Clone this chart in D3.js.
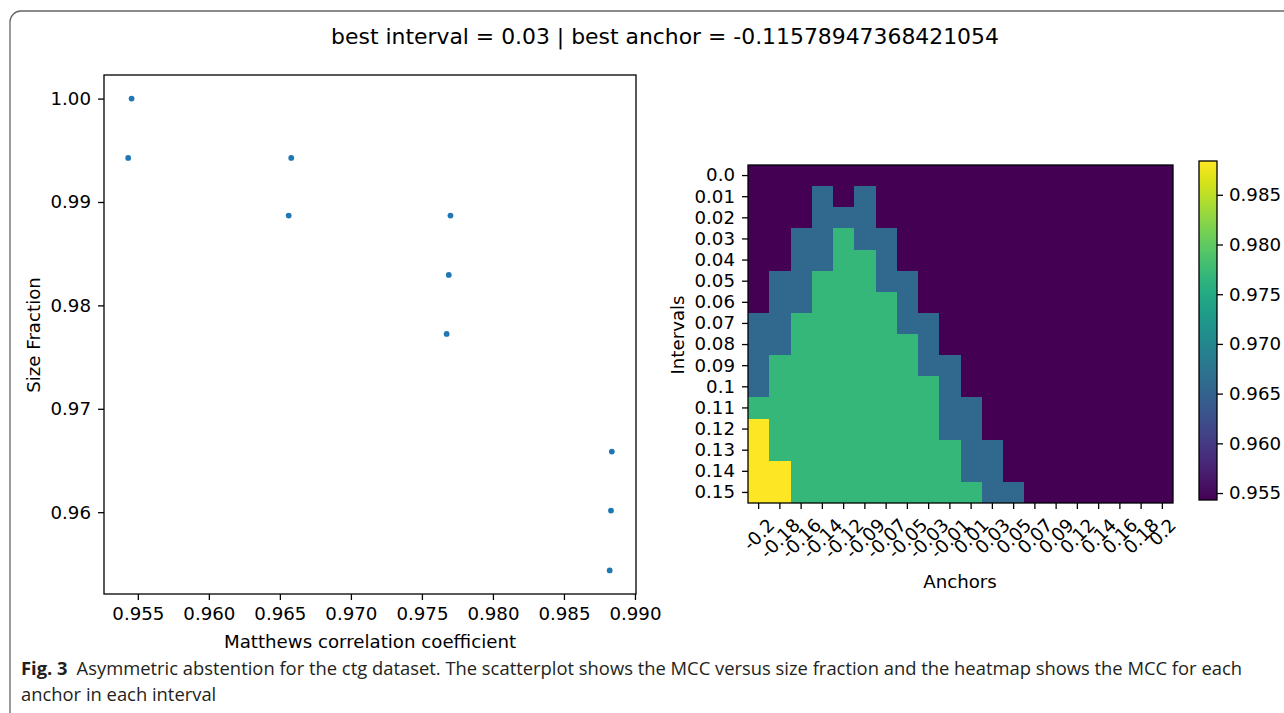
<!DOCTYPE html>
<html>
<head>
<meta charset="utf-8">
<script src="https://cdn.jsdelivr.net/npm/d3@7"></script>
<style>
  body { margin: 0; background: #fff; }
  svg { display: block; }
  .mpl { font-family: "DejaVu Sans", sans-serif; fill: #000; }
  .cap { font-family: "Open Sans", "Noto Sans", sans-serif; fill: #231f20; }
</style>
</head>
<body>
<svg id="fig" width="1284" height="713"></svg>
<script>
// scatter: MCC vs size fraction
const scatterMCC  = [0.95456, 0.95432, 0.96580, 0.96562, 0.97701, 0.97689, 0.97674, 0.98837, 0.98831, 0.98822];
const scatterSize = [1.00000, 0.99426, 0.99426, 0.98869, 0.98869, 0.98295, 0.97724, 0.96586, 0.96016, 0.95437];
const xTicks = [0.955, 0.960, 0.965, 0.970, 0.975, 0.980, 0.985, 0.990];
const yTicks = [0.96, 0.97, 0.98, 0.99, 1.00];

// heatmap: MCC for each anchor (column) in each interval (row)
const intervals = ["0.0","0.01","0.02","0.03","0.04","0.05","0.06","0.07","0.08","0.09","0.1","0.11","0.12","0.13","0.14","0.15"];
const anchors = ["-0.2","-0.18","-0.16","-0.14","-0.12","-0.09","-0.07","-0.05","-0.03","-0.01",
                 "0.01","0.03","0.05","0.07","0.09","0.12","0.14","0.16","0.18","0.2"];
const mccLevels = [0.9543, 0.9657, 0.9770, 0.9884];
const heatRows = [
  "00000000000000000000",
  "00010100000000000000",
  "00011100000000000000",
  "00112110000000000000",
  "00112210000000000000",
  "01122211000000000000",
  "01122221000000000000",
  "11222221100000000000",
  "11222222100000000000",
  "12222222110000000000",
  "12222222210000000000",
  "22222222211000000000",
  "32222222211000000000",
  "32222222221100000000",
  "33222222221100000000",
  "33222222222110000000"
];
const cbarTicks = [0.955, 0.960, 0.965, 0.970, 0.975, 0.980, 0.985];

const titleText = "best interval = 0.03 | best anchor = -0.11578947368421054";
const captionBold = "Fig. 3";
const captionLine1 = "Asymmetric abstention for the ctg dataset. The scatterplot shows the MCC versus size fraction and the heatmap shows the MCC for each";
const captionLine2 = "anchor in each interval";

const svg = d3.select("#fig");
const FS = 18.2, TICK = 6, PAD = 7, LW = 1.3;

// outer frame
svg.append("rect")
  .attr("x", 10).attr("y", 11).attr("width", 1300).attr("height", 720)
  .attr("rx", 11).attr("fill", "none").attr("stroke", "#666").attr("stroke-width", 1.3);

svg.append("text").attr("class", "mpl")
  .attr("x", 665).attr("y", 44).attr("text-anchor", "middle")
  .attr("font-size", 21.9).text(titleText);

// ---------- scatter ----------
const sc = {l: 104, r: 636, t: 75, b: 594};
function padExtent(arr){
  let e = d3.extent(arr), p = (e[1]-e[0])*0.05;
  return [e[0]-p, e[1]+p];
}
const x = d3.scaleLinear().domain(padExtent(scatterMCC)).range([sc.l, sc.r]);
const y = d3.scaleLinear().domain(padExtent(scatterSize)).range([sc.b, sc.t]);

const gS = svg.append("g");
gS.selectAll("circle")
  .data(scatterMCC.map((v,i) => [v, scatterSize[i]]))
  .enter().append("circle")
  .attr("cx", d => x(d[0])).attr("cy", d => y(d[1]))
  .attr("r", 2.9).attr("fill", "#1f77b4");

function styleAxis(g){
  g.select(".domain").remove();
  g.selectAll(".tick line").attr("stroke", "#000").attr("stroke-width", LW);
  g.selectAll(".tick text").attr("class", "mpl").attr("font-size", FS).attr("fill", "#000");
}

gS.append("g").attr("transform", `translate(0,${sc.b})`)
  .call(d3.axisBottom(x).tickValues(xTicks).tickFormat(d3.format(".3f")).tickSizeOuter(0).tickSize(TICK).tickPadding(PAD))
  .call(styleAxis);
gS.append("g").attr("transform", `translate(${sc.l},0)`)
  .call(d3.axisLeft(y).tickValues(yTicks).tickFormat(d3.format(".2f")).tickSizeOuter(0).tickSize(TICK).tickPadding(PAD))
  .call(styleAxis);

gS.append("rect").attr("x", sc.l).attr("y", sc.t)
  .attr("width", sc.r - sc.l).attr("height", sc.b - sc.t)
  .attr("fill", "none").attr("stroke", "#000").attr("stroke-width", LW);

gS.append("text").attr("class", "mpl").attr("font-size", FS)
  .attr("text-anchor", "middle").attr("x", 370).attr("y", 648)
  .text("Matthews correlation coefficient");
gS.append("text").attr("class", "mpl").attr("font-size", FS)
  .attr("text-anchor", "middle")
  .attr("transform", "translate(40,335) rotate(-90)")
  .text("Size Fraction");

// ---------- heatmap ----------
const hm = {l: 748, r: 1173, t: 165, b: 503};
const cx = d3.scaleBand().domain(anchors).range([hm.l, hm.r]);
const cy = d3.scaleBand().domain(intervals).range([hm.t, hm.b]);
const cells = [];
heatRows.forEach((row, i) => {
  row.split("").forEach((c, j) => {
    cells.push({iv: intervals[i], an: anchors[j], v: mccLevels[+c]});
  });
});
const vExt = d3.extent(cells, d => d.v);
const color = d3.scaleSequential(d3.interpolateViridis).domain(vExt);

const gH = svg.append("g");
gH.selectAll("rect.cell")
  .data(cells).enter().append("rect").attr("class", "cell")
  .attr("x", d => cx(d.an)).attr("y", d => cy(d.iv))
  .attr("width", cx.bandwidth()).attr("height", cy.bandwidth())
  .attr("shape-rendering", "crispEdges")
  .attr("fill", d => color(d.v));

gH.append("g").attr("transform", `translate(${hm.l},0)`)
  .call(d3.axisLeft(cy).tickSizeOuter(0).tickSize(TICK).tickPadding(PAD))
  .call(styleAxis);

const xa = gH.append("g").attr("transform", `translate(0,${hm.b})`)
  .call(d3.axisBottom(cx).tickSizeOuter(0).tickSize(TICK).tickPadding(PAD))
  .call(styleAxis);
// rotated labels, bbox centred on the tick (matplotlib rotation=45)
xa.selectAll(".tick text").each(function(){
  const t = d3.select(this);
  t.attr("y", 0).attr("dy", null).attr("text-anchor", "middle")
   .attr("dominant-baseline", "central");
  const w = this.getComputedTextLength();
  const h = (w + FS*0.75) * Math.SQRT1_2;
  t.attr("transform", `translate(0,${TICK + 8 + h/2}) rotate(-45)`);
});

gH.append("rect").attr("x", hm.l).attr("y", hm.t)
  .attr("width", hm.r - hm.l).attr("height", hm.b - hm.t)
  .attr("fill", "none").attr("stroke", "#000").attr("stroke-width", LW);

gH.append("text").attr("class", "mpl").attr("font-size", FS)
  .attr("text-anchor", "middle").attr("x", 960).attr("y", 588).text("Anchors");
gH.append("text").attr("class", "mpl").attr("font-size", FS)
  .attr("text-anchor", "middle")
  .attr("transform", "translate(684,335) rotate(-90)").text("Intervals");

// ---------- colorbar ----------
const cb = {l: 1199, r: 1217, t: 161, b: 500};
const defs = svg.append("defs");
const grad = defs.append("linearGradient").attr("id", "vir")
  .attr("x1", 0).attr("y1", 1).attr("x2", 0).attr("y2", 0);
d3.range(0, 1.0001, 0.05).forEach(s => {
  grad.append("stop").attr("offset", s).attr("stop-color", d3.interpolateViridis(s));
});
const cyb = d3.scaleLinear().domain(vExt).range([cb.b, cb.t]);
svg.append("rect").attr("x", cb.l).attr("y", cb.t)
  .attr("width", cb.r - cb.l).attr("height", cb.b - cb.t)
  .attr("fill", "url(#vir)").attr("stroke", "#000").attr("stroke-width", LW);
svg.append("g").attr("transform", `translate(${cb.r},0)`)
  .call(d3.axisRight(cyb).tickValues(cbarTicks).tickFormat(d3.format(".3f")).tickSizeOuter(0).tickSize(TICK).tickPadding(6))
  .call(styleAxis);

// ---------- caption ----------
const cap = svg.append("g");
const l1 = cap.append("text").attr("class", "cap").attr("x", 21).attr("y", 675).attr("font-size", 19);
l1.append("tspan").attr("font-weight", "bold").text(captionBold);
l1.append("tspan").attr("dx", 9).text(captionLine1);
const w1 = l1.node().getComputedTextLength() + 9;
const fs = 19 * (1222 / w1);
l1.attr("font-size", fs);
cap.append("text").attr("class", "cap").attr("x", 21).attr("y", 701)
  .attr("font-size", fs).text(captionLine2);
</script>
</body>
</html>
